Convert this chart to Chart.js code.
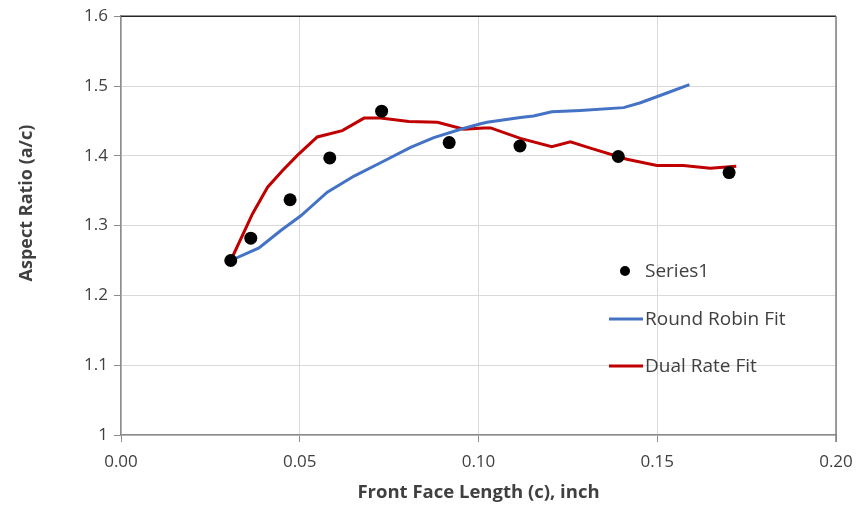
<!DOCTYPE html>
<html>
<head>
<meta charset="utf-8">
<script src="https://cdn.jsdelivr.net/npm/chart.js@4/dist/chart.umd.min.js"></script>
<style>
  html, body { margin: 0; padding: 0; background: #fff; }
  #wrap { width: 856px; height: 508px; }
</style>
</head>
<body>
<div id="wrap"><canvas id="ratio-chart" width="856" height="508"></canvas></div>
<script>
/** Aspect ratio vs. front face length */

// Measured points
const measuredX = [0.0307, 0.0363, 0.0473, 0.0584, 0.0729, 0.0918, 0.1116, 0.1391, 0.1701];
const measuredY = [1.250, 1.282, 1.337, 1.397, 1.464, 1.419, 1.414, 1.399, 1.376];

// Round Robin fit curve
const roundRobinX = [0.0307, 0.0386, 0.0447, 0.0503, 0.0577, 0.0652, 0.0726, 0.0810, 0.0875,
    0.0950, 0.1006, 0.1024, 0.1117, 0.1154, 0.1205, 0.1285, 0.1406, 0.1453, 0.1527, 0.1590];
const roundRobinY = [1.250, 1.268, 1.293, 1.314, 1.348, 1.371, 1.390, 1.412, 1.426,
    1.438, 1.446, 1.448, 1.455, 1.457, 1.463, 1.465, 1.469, 1.476, 1.490, 1.502];

// Dual Rate fit curve
const dualRateX = [0.0307, 0.0368, 0.0410, 0.0452, 0.0494, 0.0549, 0.0619, 0.0680, 0.0726,
    0.0805, 0.0885, 0.0959, 0.1015, 0.1034, 0.1117, 0.1205, 0.1257, 0.1313, 0.1415,
    0.1499, 0.1573, 0.1648, 0.1721];
const dualRateY = [1.250, 1.317, 1.355, 1.379, 1.401, 1.427, 1.436, 1.454, 1.454,
    1.449, 1.448, 1.438, 1.440, 1.440, 1.425, 1.413, 1.420, 1.411, 1.395,
    1.386, 1.386, 1.382, 1.385];

const xTicks = [0.00, 0.05, 0.10, 0.15, 0.20];
const yTicks = [1, 1.1, 1.2, 1.3, 1.4, 1.5, 1.6];

const seriesNames = ['Series1', 'Round Robin Fit', 'Dual Rate Fit'];
const yTitle = 'Aspect Ratio (a/c)';

const FONT = '"Open Sans", Lato, sans-serif';
const TEXT = '#404040';

function toPoints(xs, ys) {
    return xs.map((x, i) => ({ x: x, y: ys[i] }));
}

// Legend drawn inside the plot area, lower right
const insideLegend = {
    id: 'insideLegend',
    afterDatasetsDraw(chart) {
        const ctx = chart.ctx;
        const rows = [271, 319, 366];
        ctx.save();
        ctx.font = '19px ' + FONT;
        ctx.textBaseline = 'middle';
        chart.data.datasets.forEach((ds, i) => {
            const y = rows[i];
            if (ds.showLine) {
                ctx.strokeStyle = ds.borderColor;
                ctx.lineWidth = 3;
                ctx.beginPath();
                ctx.moveTo(609, y);
                ctx.lineTo(643, y);
                ctx.stroke();
            } else {
                ctx.fillStyle = ds.pointBackgroundColor;
                ctx.beginPath();
                ctx.arc(625, y, 5, 0, Math.PI * 2);
                ctx.fill();
            }
            ctx.fillStyle = TEXT;
            ctx.fillText(ds.label, 645, y + 1);
        });
        ctx.restore();
    }
};

// Top and right edges of the plot box, plus the rotated y title
const plotFrame = {
    id: 'plotFrame',
    afterDraw(chart) {
        const { left, right, top, bottom } = chart.chartArea;
        const ctx = chart.ctx;
        ctx.save();
        ctx.lineWidth = 1.5;
        ctx.strokeStyle = '#262626';
        ctx.beginPath();
        ctx.moveTo(left, top);
        ctx.lineTo(right, top);
        ctx.stroke();
        ctx.strokeStyle = '#7f7f7f';
        ctx.beginPath();
        ctx.moveTo(right, top);
        ctx.lineTo(right, bottom + 7);
        ctx.stroke();

        ctx.translate(27, 203);
        ctx.rotate(-Math.PI / 2);
        ctx.font = 'bold 18px ' + FONT;
        ctx.fillStyle = TEXT;
        ctx.textAlign = 'center';
        ctx.textBaseline = 'middle';
        ctx.fillText(yTitle, 0, 0);
        ctx.restore();
    }
};

const ctx = document.getElementById('ratio-chart').getContext('2d');
const ratioChart = new Chart(ctx, {
    type: 'scatter',
    data: {
        datasets: [
            {
                label: seriesNames[0],
                data: toPoints(measuredX, measuredY),
                showLine: false,
                pointRadius: 6.5,
                pointBackgroundColor: '#000000',
                pointBorderWidth: 0,
                borderColor: '#000000'
            },
            {
                label: seriesNames[1],
                data: toPoints(roundRobinX, roundRobinY),
                showLine: true,
                borderColor: '#4472C4',
                borderWidth: 3,
                pointRadius: 0,
                tension: 0
            },
            {
                label: seriesNames[2],
                data: toPoints(dualRateX, dualRateY),
                showLine: true,
                borderColor: '#C00000',
                borderWidth: 3,
                pointRadius: 0,
                tension: 0
            }
        ]
    },
    options: {
        responsive: false,
        animation: false,
        layout: {
            padding: { top: 15, right: 20, left: 0, bottom: 0 }
        },
        scales: {
            x: {
                type: 'linear',
                min: 0,
                max: 0.2,
                afterBuildTicks: (scale) => { scale.ticks = xTicks.map(v => ({ value: v })); },
                afterFit: (scale) => {
                    scale.height = 73;
                    scale.paddingLeft = 0;
                    scale.paddingRight = 0;
                },
                ticks: {
                    callback: (v) => v.toFixed(2),
                    color: TEXT,
                    font: { family: FONT, size: 17 },
                    padding: 10,
                    maxRotation: 0
                },
                grid: { color: '#d9d9d9', tickColor: '#8c8c8c', tickLength: 7 },
                border: { color: '#8c8c8c', width: 1.5 },
                title: {
                    display: true,
                    text: 'Front Face Length (c), inch',
                    color: TEXT,
                    font: { family: FONT, size: 18.5, weight: 'bold' },
                    padding: { top: 0, bottom: 4 }
                }
            },
            y: {
                type: 'linear',
                min: 1,
                max: 1.6,
                afterBuildTicks: (scale) => { scale.ticks = yTicks.map(v => ({ value: v })); },
                afterFit: (scale) => { scale.width = 121; },
                ticks: {
                    callback: (v) => (v === 1 ? '1' : v.toFixed(1)),
                    color: TEXT,
                    font: { family: FONT, size: 17 },
                    padding: 6
                },
                grid: { color: '#d9d9d9', tickColor: '#8c8c8c', tickLength: 7 },
                border: { color: '#8c8c8c', width: 1.5 },
                title: { display: false }
            }
        },
        plugins: {
            legend: { display: false },
            tooltip: { enabled: false }
        }
    },
    plugins: [insideLegend, plotFrame]
});
</script>
</body>
</html>
